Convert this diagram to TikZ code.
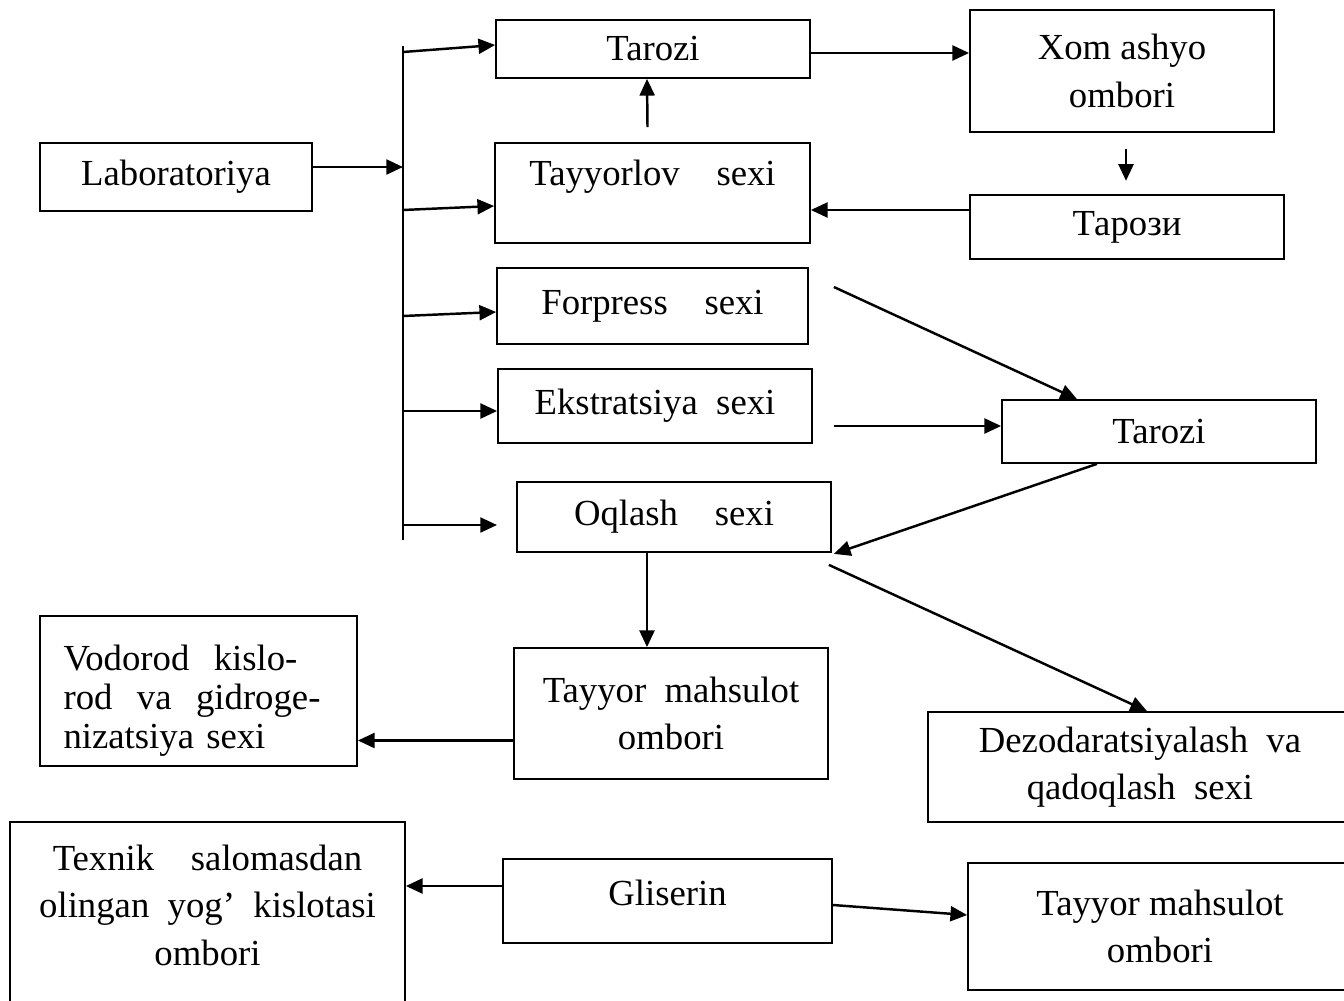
\documentclass[tikz,border=0pt]{standalone}
\usepackage{fontspec}
\setmainfont{Liberation Serif}
\usetikzlibrary{arrows.meta,calc}

\begin{document}
\begin{tikzpicture}[
			x=0.02cm, y=-0.02cm,
			every node/.style={
				draw,
				rectangle,
				align=center,
				line width=1pt,
				inner sep=0pt,
				font=\fontsize{20.9}{27}\selectfont
			},
			wh/.style 2 args={minimum width=#1*0.02cm, minimum height=#2*0.02cm},
			arr/.style={-{Triangle[length=9.5pt,width=8.5pt]}, line width=1.4pt}
			]
			\useasboundingbox (0,0) rectangle (1344,1000);
			
			% Left column
			\node[wh={272}{68}] (lab) at (176,177) {Laboratoriya};
			\node[wh={317}{150}, align=left, text width=5.4cm, text height=25.6pt,
				font=\fontsize{20.9}{22}\selectfont] (vod) at (198.5,691)
				{Vodorod\ \ kislo-\\rod\ \ va\ \ gidroge-\\nizatsiya sexi};
			\node[wh={395}{182}, text depth=9pt] (tex) at (207.5,913)
				{Texnik\quad salomasdan\\olingan\ \ yog’\ \ kislotasi\\ombori};
			
			% Middle column: sexlar
			\node[wh={314}{58}] (tar1) at (653,49) {Tarozi};
			\node[wh={315}{100}, text depth=22.8pt] (tay) at (652.5,193) {Tayyorlov\quad sexi};
			\node[wh={311}{76}] (forp) at (652.5,306) {Forpress\quad sexi};
			\node[wh={314}{74}] (ekst) at (655,406) {Ekstratsiya\ \ sexi};
			\node[wh={314}{70}] (oql) at (674,517) {Oqlash\quad sexi};
			\node[wh={314}{131}] (tmo) at (671,713.5) {Tayyor\ \ mahsulot\\ombori};
			\node[wh={329}{84}, text depth=9pt] (gli) at (667.5,901) {Gliserin};
			
			% Right column
			\node[wh={304}{122}] (xom) at (1122,71) {Xom ashyo\\ombori};
			\node[wh={314}{64}] (tarR) at (1127,227) {Тарози};
			\node[wh={314}{63}] (tar2) at (1159,431.5) {Tarozi};
			\node[wh={424}{110}] (dez) at (1140,767) {Dezodaratsiyalash\ \ va\\qadoqlash\ \ sexi};
			\node[wh={384}{127}] (tmo2) at (1160,926.5) {Tayyor mahsulot\\ombori};
			
			% Bus from the laboratory
			\coordinate (bt) at (403,46);
			\coordinate (bb) at (403,540);
			\coordinate (bl) at (403,167);
			\coordinate (b1) at (403,52);
			\coordinate (b2) at (403,210);
			\coordinate (b3) at (403,316);
			\coordinate (b4) at (403,411);
			\coordinate (b5) at (403,525);
			\coordinate (o5) at (497,525);
			\draw[line width=1.3pt] (bt)--(bb);
			\draw[arr] ($(lab.east)+(0,-10)$)--(bl);
			
			% Branches to the sexlar
			\draw[arr] (b1)--($(tar1.west)+(0,-4)$);
			\draw[arr] (b2)--($(tay.west)+(0,13)$);
			\draw[arr] (b3)--($(forp.west)+(0,6)$);
			\draw[arr] (b4)--($(ekst.west)+(0,5)$);
			\draw[arr] (b5)--(o5);
			
			% Raw material loop
			\draw[arr] ($(tay.north)+(-5,-15)$)--($(tar1.south)+(-6,0)$);
			\draw[arr] ($(tar1.east)+(0,4)$) coordinate (a1)--(a1 -| xom.west);
			\draw[arr] ($(xom.south)+(4,16)$)--($(xom.south)+(4,48)$);
			\draw[arr] ($(tarR.west)+(0,-17)$) coordinate (a2)--(a2 -| tay.east);
			
			% Weighing and bleaching
			\draw[arr] ($(forp.east)+(25,-19)$)--($(tar2.north)+(-82,0)$);
			\draw[arr] ($(ekst.east)+(21,20)$) coordinate (a3)--(a3 -| tar2.west);
			\draw[arr] ($(tar2.south)+(-62,0)$)--($(oql.south east)+(2,1)$);
			\draw[arr] ($(oql.south east)+(-3,12)$)--($(dez.north)+(7,0)$);
			\draw[arr] ($(oql.south)+(-27,0)$) coordinate (a4)--(a4 |- tmo.north);
			\draw[arr] ($(tmo.west)+(0,27)$) coordinate (a5)--(a5 -| vod.east);
			
			% Glycerin
			\draw[arr] ($(gli.west)+(0,-15)$) coordinate (a6)--(a6 -| tex.east);
			\draw[arr] ($(gli.east)+(0,4)$)--($(tmo2.west)+(0,-11.5)$);
			
		\end{tikzpicture}
\end{document}
